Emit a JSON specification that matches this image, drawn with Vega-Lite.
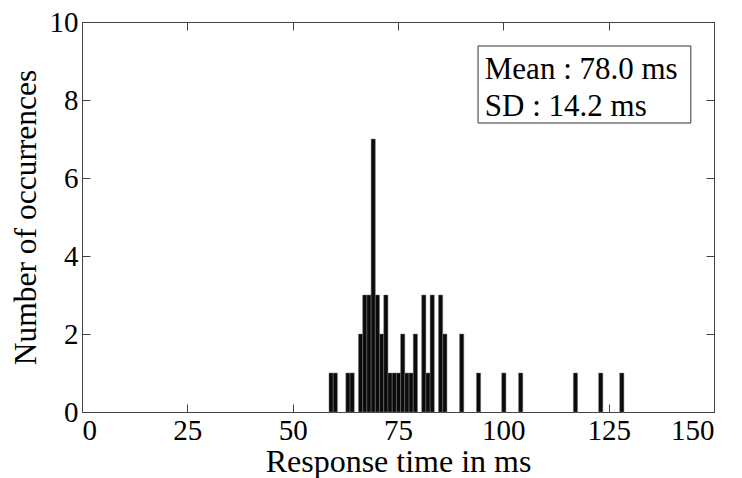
{
  "$schema": "https://vega.github.io/schema/vega-lite/v6.json",
  "autosize": {"type": "none"},
  "padding": {"left": 82, "top": 22, "right": 28, "bottom": 66},
  "width": 632,
  "height": 390,
  "background": "white",
  "config": {
    "view": {"stroke": "#444", "strokeWidth": 1},
    "font": "Liberation Serif",
    "axis": {
      "labelFont": "Liberation Serif",
      "labelFontSize": 29,
      "labelColor": "black",
      "titleFont": "Liberation Serif",
      "titleFontSize": 32,
      "titleFontWeight": "normal",
      "titleColor": "black",
      "domainColor": "#444",
      "tickColor": "#444",
      "tickSize": -8,
      "grid": false,
      "labelPadding": 12
    }
  },
  "data": {
    "values": [
      {"t": 59, "n": 1}, {"t": 60, "n": 1}, {"t": 63, "n": 1}, {"t": 64, "n": 1},
      {"t": 66, "n": 2}, {"t": 67, "n": 3}, {"t": 68, "n": 3}, {"t": 69, "n": 7},
      {"t": 70, "n": 3}, {"t": 71, "n": 2}, {"t": 72, "n": 3}, {"t": 73, "n": 1},
      {"t": 74, "n": 1}, {"t": 75, "n": 1}, {"t": 76, "n": 2}, {"t": 77, "n": 1},
      {"t": 78, "n": 1}, {"t": 79, "n": 2}, {"t": 81, "n": 3}, {"t": 82, "n": 1},
      {"t": 83, "n": 3}, {"t": 85, "n": 3}, {"t": 86, "n": 2}, {"t": 90, "n": 2},
      {"t": 94, "n": 1}, {"t": 100, "n": 1}, {"t": 104, "n": 1}, {"t": 117, "n": 1},
      {"t": 123, "n": 1}, {"t": 128, "n": 1}
    ]
  },
  "resolve": {"axis": {"x": "independent", "y": "independent"}},
  "layer": [
    {
      "mark": {"type": "bar", "fill": "#0a0a0a", "stroke": "#777", "strokeWidth": 0.5, "binSpacing": 0},
      "encoding": {
        "x": {
          "field": "t", "type": "quantitative",
          "bin": {"step": 1, "anchor": 0.5, "extent": [58, 130]},
          "scale": {"domain": [0, 150], "nice": false, "zero": false},
          "axis": {"values": [0, 25, 50, 75, 100, 125, 150], "title": "Response time in ms", "titlePadding": 1, "format": "d"}
        },
        "y": {
          "field": "n", "type": "quantitative", "aggregate": "sum",
          "scale": {"domain": [0, 10], "nice": false},
          "axis": {"values": [0, 2, 4, 6, 8, 10], "title": "Number of occurrences", "titlePadding": 7, "titleFontSize": 31.5}
        }
      }
    },
    {
      "data": {"values": [{"label": ["Mean : 78.0 ms", "SD : 14.2 ms"]}]},
      "mark": {"type": "rect", "fill": "white", "stroke": "#333", "strokeWidth": 1},
      "encoding": {
        "x": {"datum": 94, "type": "quantitative", "axis": {"orient": "top", "values": [0, 25, 50, 75, 100, 125, 150], "labels": false, "title": null}},
        "x2": {"datum": 144.5},
        "y": {"datum": 9.385, "type": "quantitative", "axis": {"orient": "right", "values": [0, 2, 4, 6, 8, 10], "labels": false, "title": null}},
        "y2": {"datum": 7.41}
      }
    },
    {
      "data": {"values": [{"label": ["Mean : 78.0 ms", "SD : 14.2 ms"]}]},
      "mark": {"type": "text", "align": "left", "baseline": "alphabetic", "font": "Liberation Serif", "fontSize": 31, "lineHeight": 37, "color": "black"},
      "encoding": {
        "x": {"datum": 95.6, "type": "quantitative", "axis": null},
        "y": {"datum": 8.54, "type": "quantitative", "axis": null},
        "text": {"field": "label"}
      }
    }
  ]
}
